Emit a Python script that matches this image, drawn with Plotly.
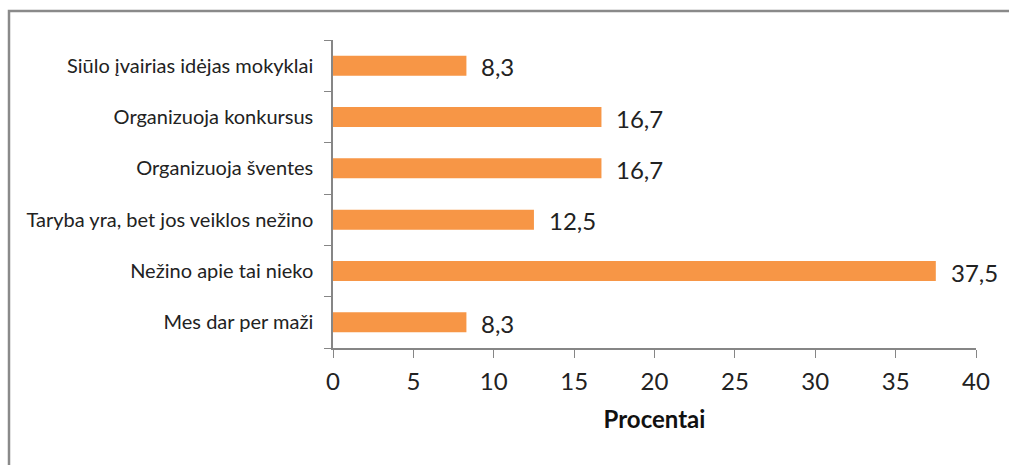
import plotly.graph_objects as go

categories = [
    "Mes dar per maži",
    "Nežino apie tai nieko",
    "Taryba yra, bet jos veiklos nežino",
    "Organizuoja šventes",
    "Organizuoja konkursus",
    "Siūlo įvairias idėjas mokyklai",
]
values = [8.3, 37.5, 12.5, 16.7, 16.7, 8.3]
labels = [f"{v:.1f}".replace(".", ",") for v in values]

axis_grey = "#868686"
font_family = "Lato, 'Open Sans', sans-serif"

fig = go.Figure(go.Bar(
    y=categories,
    x=values,
    orientation="h",
    marker=dict(color="#F79646", line=dict(width=0)),
    hoverinfo="x+y",
))

# value labels sit a little to the right of each bar end
for cat, val, lab in zip(categories, values, labels):
    fig.add_annotation(
        x=val, y=cat, text=lab, showarrow=False,
        xanchor="left", xshift=13, yshift=-1,
        font=dict(size=24, color="#222222", family=font_family),
    )

fig.update_layout(
    width=1009,
    height=465,
    margin=dict(l=333, r=33, t=40, b=117),
    paper_bgcolor="white",
    plot_bgcolor="white",
    bargap=0.61,
    showlegend=False,
    font=dict(family=font_family, color="#222222"),
    xaxis=dict(
        range=[0, 40],
        dtick=5,
        showgrid=False,
        zeroline=False,
        showline=True,
        linecolor=axis_grey,
        linewidth=1.5,
        ticks="outside",
        ticklen=8,
        tickcolor=axis_grey,
        ticklabelstandoff=3,
        tickfont=dict(size=24, color="#222222"),
        title=dict(text="<b>Procentai</b>", font=dict(size=24, color="#111111"), standoff=18),
    ),
    yaxis=dict(
        showgrid=False,
        zeroline=False,
        showline=True,
        linecolor=axis_grey,
        linewidth=1.5,
        ticks="outside",
        ticklen=7,
        tickcolor=axis_grey,
        tickson="boundaries",
        ticklabelstandoff=14,
        tickfont=dict(size=20, color="#222222"),
    ),
    shapes=[
        dict(
            type="rect", xref="paper", yref="paper",
            x0=(9 - 333) / 643, x1=1.2,
            y0=-0.6, y1=(348 - 11) / 308,
            line=dict(color="#8a8a8a", width=2.5),
            fillcolor="rgba(0,0,0,0)",
            layer="below",
        )
    ],
)

fig.write_html(
    "out.html",
    config={"displayModeBar": False},
    post_script="document.body.style.margin='0';document.body.style.overflow='hidden';",
)
